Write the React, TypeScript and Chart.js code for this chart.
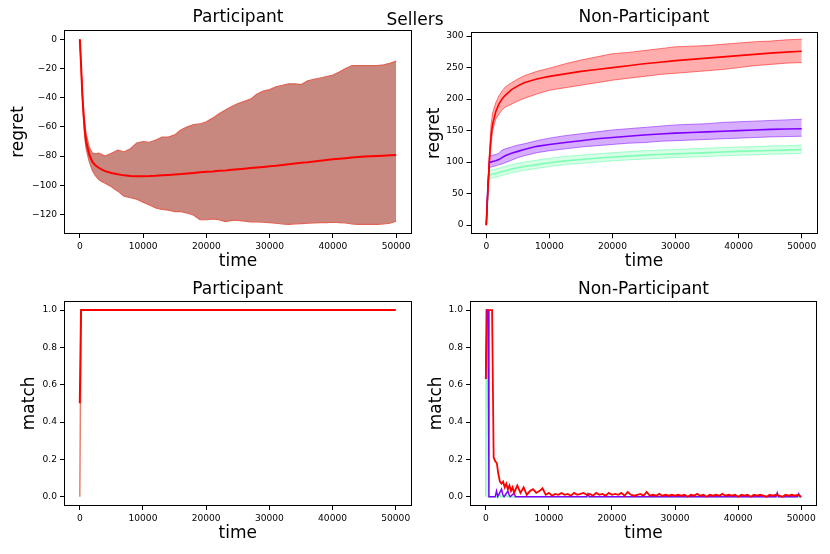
import React, { useEffect, useRef } from 'react';
import { Chart, registerables } from 'chart.js';

Chart.register(...registerables);
Chart.defaults.font.family = "'DejaVu Sans', sans-serif";
Chart.defaults.color = '#000';

// ---- shared ticks ----
const timeTicks = [0, 10000, 20000, 30000, 40000, 50000];
const partRegretTicks = [-120, -100, -80, -60, -40, -20, 0];
const nonRegretTicks = [0, 50, 100, 150, 200, 250, 300];
const matchTicks = [0, 0.2, 0.4, 0.6, 0.8, 1.0];

// ---- top-left: participant regret ----
const partTime = [0, 200, 400, 600, 800, 1000, 1500, 2000, 2500, 3000, 3500, 4000,
  ...Array.from({ length: 46 }, (_, i) => 5000 + i * 1000)];
const partMean = [0, -18, -38, -52, -63, -70, -79, -84, -86.5, -88, -89.3, -90.3,
  -91.6, -92.5, -93.2, -93.6, -93.8, -93.8, -93.7, -93.5, -93.2, -92.9, -92.6, -92.3, -91.9, -91.5, -91.1, -90.8,
  -90.5, -90.1, -89.8, -89.4, -89.0, -88.6, -88.2, -87.8, -87.4, -87.0,
  -86.6, -86.1, -85.6, -85.1, -84.6, -84.2, -83.7, -83.2, -82.7, -82.2,
  -81.8, -81.4, -81.0, -80.6, -80.3, -80.1, -79.9, -79.7, -79.5, -79.3];
const partUpper = [0, -17, -36, -49, -58, -65, -74, -78, -78.5, -78, -79, -80,
  -78, -76, -77, -75, -71, -70, -70.5, -69, -67, -67, -65.5, -62, -60, -58.5, -58, -56.5,
  -54, -51, -48.5, -46, -44, -42.5, -41, -37.5, -35.5, -34.5,
  -32.5, -31.5, -30.5, -30.5, -31, -28.5, -27.5, -26.5, -25.5, -24.5,
  -22.5, -20, -18, -18, -18, -18, -18, -17.5, -16.5, -15];
const partLower = [0, -19, -40, -55, -68, -75, -84, -90, -93.5, -96, -97.5, -98.5,
  -101, -104, -107.5, -108.5, -109.5, -111.5, -113.5, -115.5, -116.5, -117, -118, -118, -119, -120.5, -123.5, -123.6,
  -123, -123.5, -124.8, -124, -124, -124.5, -125, -125, -125.3, -125.6,
  -126, -126.5, -126.8, -126.5, -126.2, -126, -125.8, -125.6, -125.5, -125.3,
  -125.5, -125.8, -126.5, -126.8, -126.8, -126.7, -126.7, -126.5, -126, -124.5];

// ---- top-right: non-participant regret ----
const nonTime = [0, 250, 500, 750, 1000, 1500, 2000, 2500, 3000, 4000, 5000, 6000, 8000, 10000,
  12500, 15000, 17500, 20000, 22500, 25000, 27500, 30000, 32500, 35000, 37500, 40000, 42500, 45000, 47500, 50000];
const redMean = [0, 55, 105, 140, 160, 180, 192, 200, 206, 215, 221, 226, 232, 236,
  240, 244, 247, 250, 253, 256, 258.5, 261, 263, 265, 267, 269, 271, 273, 274.5, 276];
const redUpper = [0, 60, 115, 158, 178, 194, 205, 213, 219, 226, 232, 237, 244, 249,
  256, 262, 267, 272, 274, 277, 280, 283, 284, 285, 287, 289, 291, 292, 294, 295];
const redLower = [0, 50, 95, 125, 150, 168, 176, 183, 187, 192, 197, 201, 208, 214,
  218, 222, 226, 230, 233, 236, 239, 241, 243, 245, 247, 250, 253, 255, 257, 258];
const purpleMean = [0, 60, 100, 100, 101, 102, 104, 107, 110, 114, 117, 120, 125, 128,
  131, 134, 137, 139, 141, 143, 144.5, 146, 147, 148, 149, 150, 151, 152, 152.5, 153];
const purpleUpper = [0, 60, 110, 110, 111, 112, 114, 119, 121, 124, 127, 129, 134, 138,
  142, 145, 148, 151, 153, 155, 157, 159, 160, 161, 163, 164, 165, 166, 167, 168];
const purpleLower = [0, 60, 92, 92, 93, 94, 96, 97, 99, 103, 107, 110, 115, 118,
  121, 124, 126, 128, 130, 131, 133, 134, 135, 136, 137, 138, 139, 140, 140.5, 141];
const greenMean = [0, 50, 80, 80, 81, 82, 83, 85, 86, 89, 91, 93, 96, 99,
  102, 104, 106, 108, 109.5, 111, 112, 113, 114, 115, 116, 117, 117.5, 118.5, 119, 120];
const greenUpper = [0, 55, 87, 87, 88, 89, 90, 92, 93, 96, 98, 100, 103, 106,
  109, 111, 113, 115, 116.5, 118, 119, 120, 121, 122, 123, 124, 124.5, 125.5, 126, 127];
const greenLower = [0, 45, 74, 74, 75, 76, 77, 79, 80, 83, 85, 87, 90, 93,
  96, 98, 100, 102, 103.5, 105, 106, 107, 108, 109, 110, 111, 111.5, 112.5, 113, 114];

// ---- bottom-left: participant match ----
const partMatchTime = [0, 200, 50000];
const partMatchPale = [0, 1, 1];
const partMatchRed = [0.5, 1, 1];

// ---- bottom-right: non-participant match ----
const matchRedTime = [...Array.from({ length: 21 }, (_, i) => i * 250),
  ...Array.from({ length: 90 }, (_, i) => 5500 + i * 500)];
const matchRed = [0.63, 1, 1, 1, 1, 0.21, 0.19, 0.18, 0.12, 0.08, 0.07, 0.08, 0.05, 0.07, 0.04, 0.06, 0.03, 0.05, 0.02, 0.04, 0.06,
  0.02, 0.05, 0.01, 0.03, 0.04, 0.02, 0.03, 0.045, 0.01, 0.02,
  0.005, 0.015, 0.01, 0.02, 0.01, 0.015, 0.005, 0.02, 0.01, 0.015,
  0.02, 0.01, 0.015, 0.005, 0.02, 0.01, 0.015, 0.005, 0.02, 0.01,
  0.015, 0.01, 0.02, 0.005, 0.025, 0.01, 0.005, 0.01, 0.015, 0.005,
  0.025, 0.005, 0.01, 0.005, 0.015, 0.005, 0.01, 0.005, 0.01, 0.005,
  0.01, 0.005, 0.01, 0, 0.01, 0.005, 0.015, 0.005, 0.01, 0,
  0.01, 0.005, 0.01, 0.005, 0.015, 0.005, 0.01, 0.005, 0.01, 0,
  0.01, 0.005, 0.01, 0, 0.01, 0.005, 0.01, 0.005, 0, 0.01,
  0.005, 0.01, 0.005, 0, 0.01, 0.005, 0.01, 0.005, 0.01, 0];
const matchPurpleTime = [0, 100, 400, 500, 1500, 1700, 1900, 2500, 2700, 2900, 3500, 3700, 3900, 4500, 4700, 4900,
  16000, 16200, 16400, 46000, 46200, 46400, 49400, 49600, 49800, 50000];
const matchPurple = [0.63, 1, 1, 0, 0, 0.03, 0, 0.04, 0.01, 0, 0.03, 0.01, 0, 0.02, 0, 0,
  0, 0.015, 0, 0, 0.02, 0, 0, 0.015, 0, 0];
const matchGreenTime = [0, 100, 300, 400, 2000, 2200, 2400, 3000, 3200, 3400, 50000];
const matchGreen = [0, 1, 1, 0, 0, 0.015, 0, 0, 0.01, 0, 0];

const pts = (xs: number[], ys: number[]) => xs.map((x, i) => ({ x, y: ys[i] }));

const RED = '#ff0000';
const PURPLE = '#8000ff';
const GREEN = '#80ffb4';

const line = (data: any, color: string, width: number, order: number, extra: any = {}) => ({
  data, borderColor: color, borderWidth: width, pointRadius: 0, tension: 0, fill: false, order, ...extra,
});

// box around the axes, like matplotlib spines
const framePlugin = {
  id: 'frame',
  afterDraw(chart: any) {
    const { ctx, chartArea: a } = chart;
    ctx.save();
    ctx.strokeStyle = '#000';
    ctx.lineWidth = 1;
    ctx.strokeRect(Math.round(a.left) + 0.5, Math.round(a.top) + 0.5,
      Math.round(a.right - a.left) - 1, Math.round(a.bottom - a.top) - 1);
    ctx.restore();
  },
};

const minus = (v: number) => (v < 0 ? '\u2212' + Math.abs(v) : String(v));

type PanelProps = {
  left: number; top: number; title: string; yLabel: string;
  datasets: any[]; yMin: number; yMax: number; yTicks: number[]; yFmt: (v: number) => string;
  yWidth: number; xHeight: number; right: number; tTop: number; tBottom: number; yPad: number; xPad: number;
};

const Panel = (p: PanelProps) => {
  const ref = useRef<HTMLCanvasElement | null>(null);

  useEffect(() => {
    if (!ref.current) return;
    const grid = { display: true, drawOnChartArea: false, drawTicks: true, tickLength: 4, color: '#000', tickColor: '#000' };
    const chart = new Chart(ref.current, {
      type: 'line',
      data: { datasets: p.datasets },
      options: {
        responsive: false,
        animation: false,
        events: [],
        layout: { padding: { top: 0, left: 0, bottom: 0, right: p.right } },
        plugins: {
          legend: { display: false },
          tooltip: { enabled: false },
          title: {
            display: true, text: p.title, fullSize: false, color: '#000',
            font: { size: 17, weight: 'normal' }, padding: { top: p.tTop, bottom: p.tBottom },
          },
        },
        scales: {
          x: {
            type: 'linear', min: -2500, max: 52500,
            afterBuildTicks: (s: any) => { s.ticks = timeTicks.map((v) => ({ value: v })); },
            afterFit: (s: any) => { s.height = p.xHeight; s.paddingLeft = 0; s.paddingRight = 0; },
            grid, border: { display: false },
            ticks: { font: { size: 9.1 }, padding: 3, maxRotation: 0, autoSkip: false, color: '#000', callback: (v: any) => String(v) },
            title: { display: true, text: 'time', color: '#000', font: { size: 17 }, padding: { top: 0, bottom: p.xPad } },
          },
          y: {
            type: 'linear', min: p.yMin, max: p.yMax,
            afterBuildTicks: (s: any) => { s.ticks = p.yTicks.map((v) => ({ value: v })); },
            afterFit: (s: any) => { s.width = p.yWidth; s.paddingTop = 0; s.paddingBottom = 0; },
            grid, border: { display: false },
            ticks: { font: { size: 9.1 }, padding: 3, autoSkip: false, color: '#000', callback: (v: any) => p.yFmt(Number(v)) },
            title: { display: true, text: p.yLabel, color: '#000', font: { size: 17 }, padding: { top: p.yPad, bottom: 0 } },
          },
        },
      } as any,
      plugins: [framePlugin],
    });
    return () => chart.destroy();
  }, []);

  return (
    <canvas ref={ref} width={415} height={277}
      style={{ position: 'absolute', left: p.left, top: p.top, width: 415, height: 277 }} />
  );
};

export default function App() {
  const tl = [
    line(pts(partTime, partMean), RED, 2, 0),
    line(pts(partTime, partUpper), '#e06555', 1.2, 1),
    line(pts(partTime, partLower), '#e06555', 1.2, 1, { fill: '-1', backgroundColor: '#c8877f' }),
  ];
  const band = 'rgba(%c,0.32)';
  const tr = [
    line(pts(nonTime, redMean), RED, 1.6, 0),
    line(pts(nonTime, redUpper), 'rgba(255,0,0,0.5)', 1, 1),
    line(pts(nonTime, redLower), 'rgba(255,0,0,0.5)', 1, 1, { fill: '-1', backgroundColor: band.replace('%c', '255,0,0') }),
    line(pts(nonTime, purpleMean), PURPLE, 1.6, 2),
    line(pts(nonTime, purpleUpper), 'rgba(128,0,255,0.5)', 1, 3),
    line(pts(nonTime, purpleLower), 'rgba(128,0,255,0.5)', 1, 3, { fill: '-1', backgroundColor: band.replace('%c', '128,0,255') }),
    line(pts(nonTime, greenMean), GREEN, 1.6, 4),
    line(pts(nonTime, greenUpper), 'rgba(128,255,180,0.7)', 1, 5),
    line(pts(nonTime, greenLower), 'rgba(128,255,180,0.7)', 1, 5, { fill: '-1', backgroundColor: band.replace('%c', '128,255,180') }),
  ];
  const bl = [
    line(pts(partMatchTime, partMatchRed), RED, 2, 0),
    line(pts(partMatchTime, partMatchPale), '#e8806e', 1.5, 1),
  ];
  const br = [
    line(pts(matchRedTime, matchRed), RED, 1.8, 0),
    line(pts(matchPurpleTime, matchPurple), PURPLE, 1.5, 1),
    line(pts(matchGreenTime, matchGreen), GREEN, 1.5, 2),
  ];
  const fmt1 = (v: number) => v.toFixed(1);

  return (
    <div style={{ position: 'absolute', left: 0, top: 0, width: 830, height: 554, background: '#fff', fontFamily: "'DejaVu Sans', sans-serif" }}>
      <Panel left={0} top={0} title="Participant" yLabel="regret" datasets={tl}
        yMin={-133.35} yMax={6.35} yTicks={partRegretTicks} yFmt={minus}
        yWidth={64} xHeight={43} right={3} tTop={7.8} tBottom={1.8} yPad={8.1} xPad={4.8} />
      <Panel left={415} top={0} title="Non-Participant" yLabel="regret" datasets={tr}
        yMin={-14.6} yMax={306} yTicks={nonRegretTicks} yFmt={minus}
        yWidth={55.5} xHeight={42.7} right={12.5} tTop={7.8} tBottom={4.1} yPad={9.1} xPad={4.8} />
      <Panel left={0} top={277} title="Participant" yLabel="match" datasets={bl}
        yMin={-0.05} yMax={1.05} yTicks={matchTicks} yFmt={fmt1}
        yWidth={64} xHeight={48} right={3.5} tTop={2.8} tBottom={0.5} yPad={19.1} xPad={10.5} />
      <Panel left={415} top={277} title="Non-Participant" yLabel="match" datasets={br}
        yMin={-0.05} yMax={1.05} yTicks={matchTicks} yFmt={fmt1}
        yWidth={55} xHeight={48} right={13} tTop={2.8} tBottom={0.5} yPad={11.5} xPad={10.5} />
      <div style={{ position: 'absolute', left: 0, top: 9, width: 830, textAlign: 'center', fontSize: 17, lineHeight: '20px' }}>Sellers</div>
    </div>
  );
}
